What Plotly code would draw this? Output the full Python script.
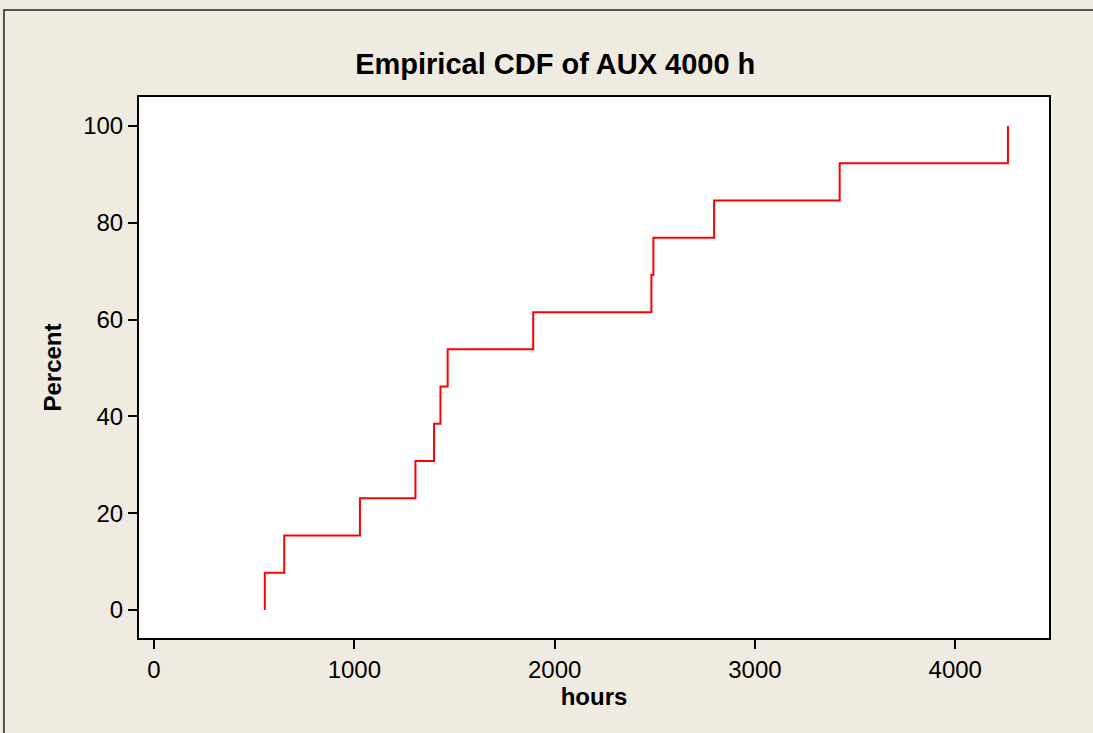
import plotly.graph_objects as go

# failure times (hours), sorted, and empirical cumulative percent
hours = [553, 650, 1028, 1305, 1398, 1430, 1466, 1893, 2483, 2493, 2796, 3423, 4263]
percent = [7.69, 15.38, 23.08, 30.77, 38.46, 46.15, 53.85, 61.54, 69.23, 76.92, 84.62, 92.31, 100.0]

x_ticks = [0, 1000, 2000, 3000, 4000]
y_ticks = [0, 20, 40, 60, 80, 100]

# step line starts from 0 at the first observation
xs = [hours[0]] + hours
ys = [0] + percent

bg = '#EFEBE0'
font = 'Liberation Sans, Arial, sans-serif'

fig = go.Figure()
fig.add_trace(go.Scatter(
    x=xs, y=ys, mode='lines',
    line=dict(color='#FF0000', width=2, shape='hv'),
    showlegend=False, hoverinfo='x+y'
))

fig.update_layout(
    width=1093, height=733,
    paper_bgcolor=bg, plot_bgcolor='white',
    margin=dict(l=139, r=44, t=97, b=95),
    font=dict(family=font, size=24, color='black'),
    title=dict(text='<b>Empirical CDF of AUX 4000 h</b>',
               x=0.508, xanchor='center', y=0.913, yanchor='middle',
               font=dict(size=29, family=font)),
    shapes=[dict(type='rect', xref='paper', yref='paper',
                 x0=-0.1484, x1=1.06, y0=-0.19, y1=1.1608,
                 line=dict(color='#222222', width=1.5), layer='below')]
)
fig.update_xaxes(
    range=[-75, 4468], tickvals=x_ticks, ticks='outside', ticklen=9,
    tickwidth=2, tickcolor='black', showline=True, linecolor='black',
    linewidth=2, mirror=True, showgrid=False, zeroline=False,
    tickfont=dict(size=24),
    title=dict(text='<b>hours</b>', font=dict(size=24), standoff=6)
)
fig.update_yaxes(
    range=[-5.8, 106], tickvals=y_ticks, ticks='outside', ticklen=9,
    tickwidth=2, tickcolor='black', showline=True, linecolor='black',
    linewidth=2, mirror=True, showgrid=False, zeroline=False,
    tickfont=dict(size=24),
    title=dict(text='<b>Percent</b>', font=dict(size=24), standoff=15)
)

fig.write_html('out.html', config={'displayModeBar': False},
               post_script="document.body.style.margin='0';")
